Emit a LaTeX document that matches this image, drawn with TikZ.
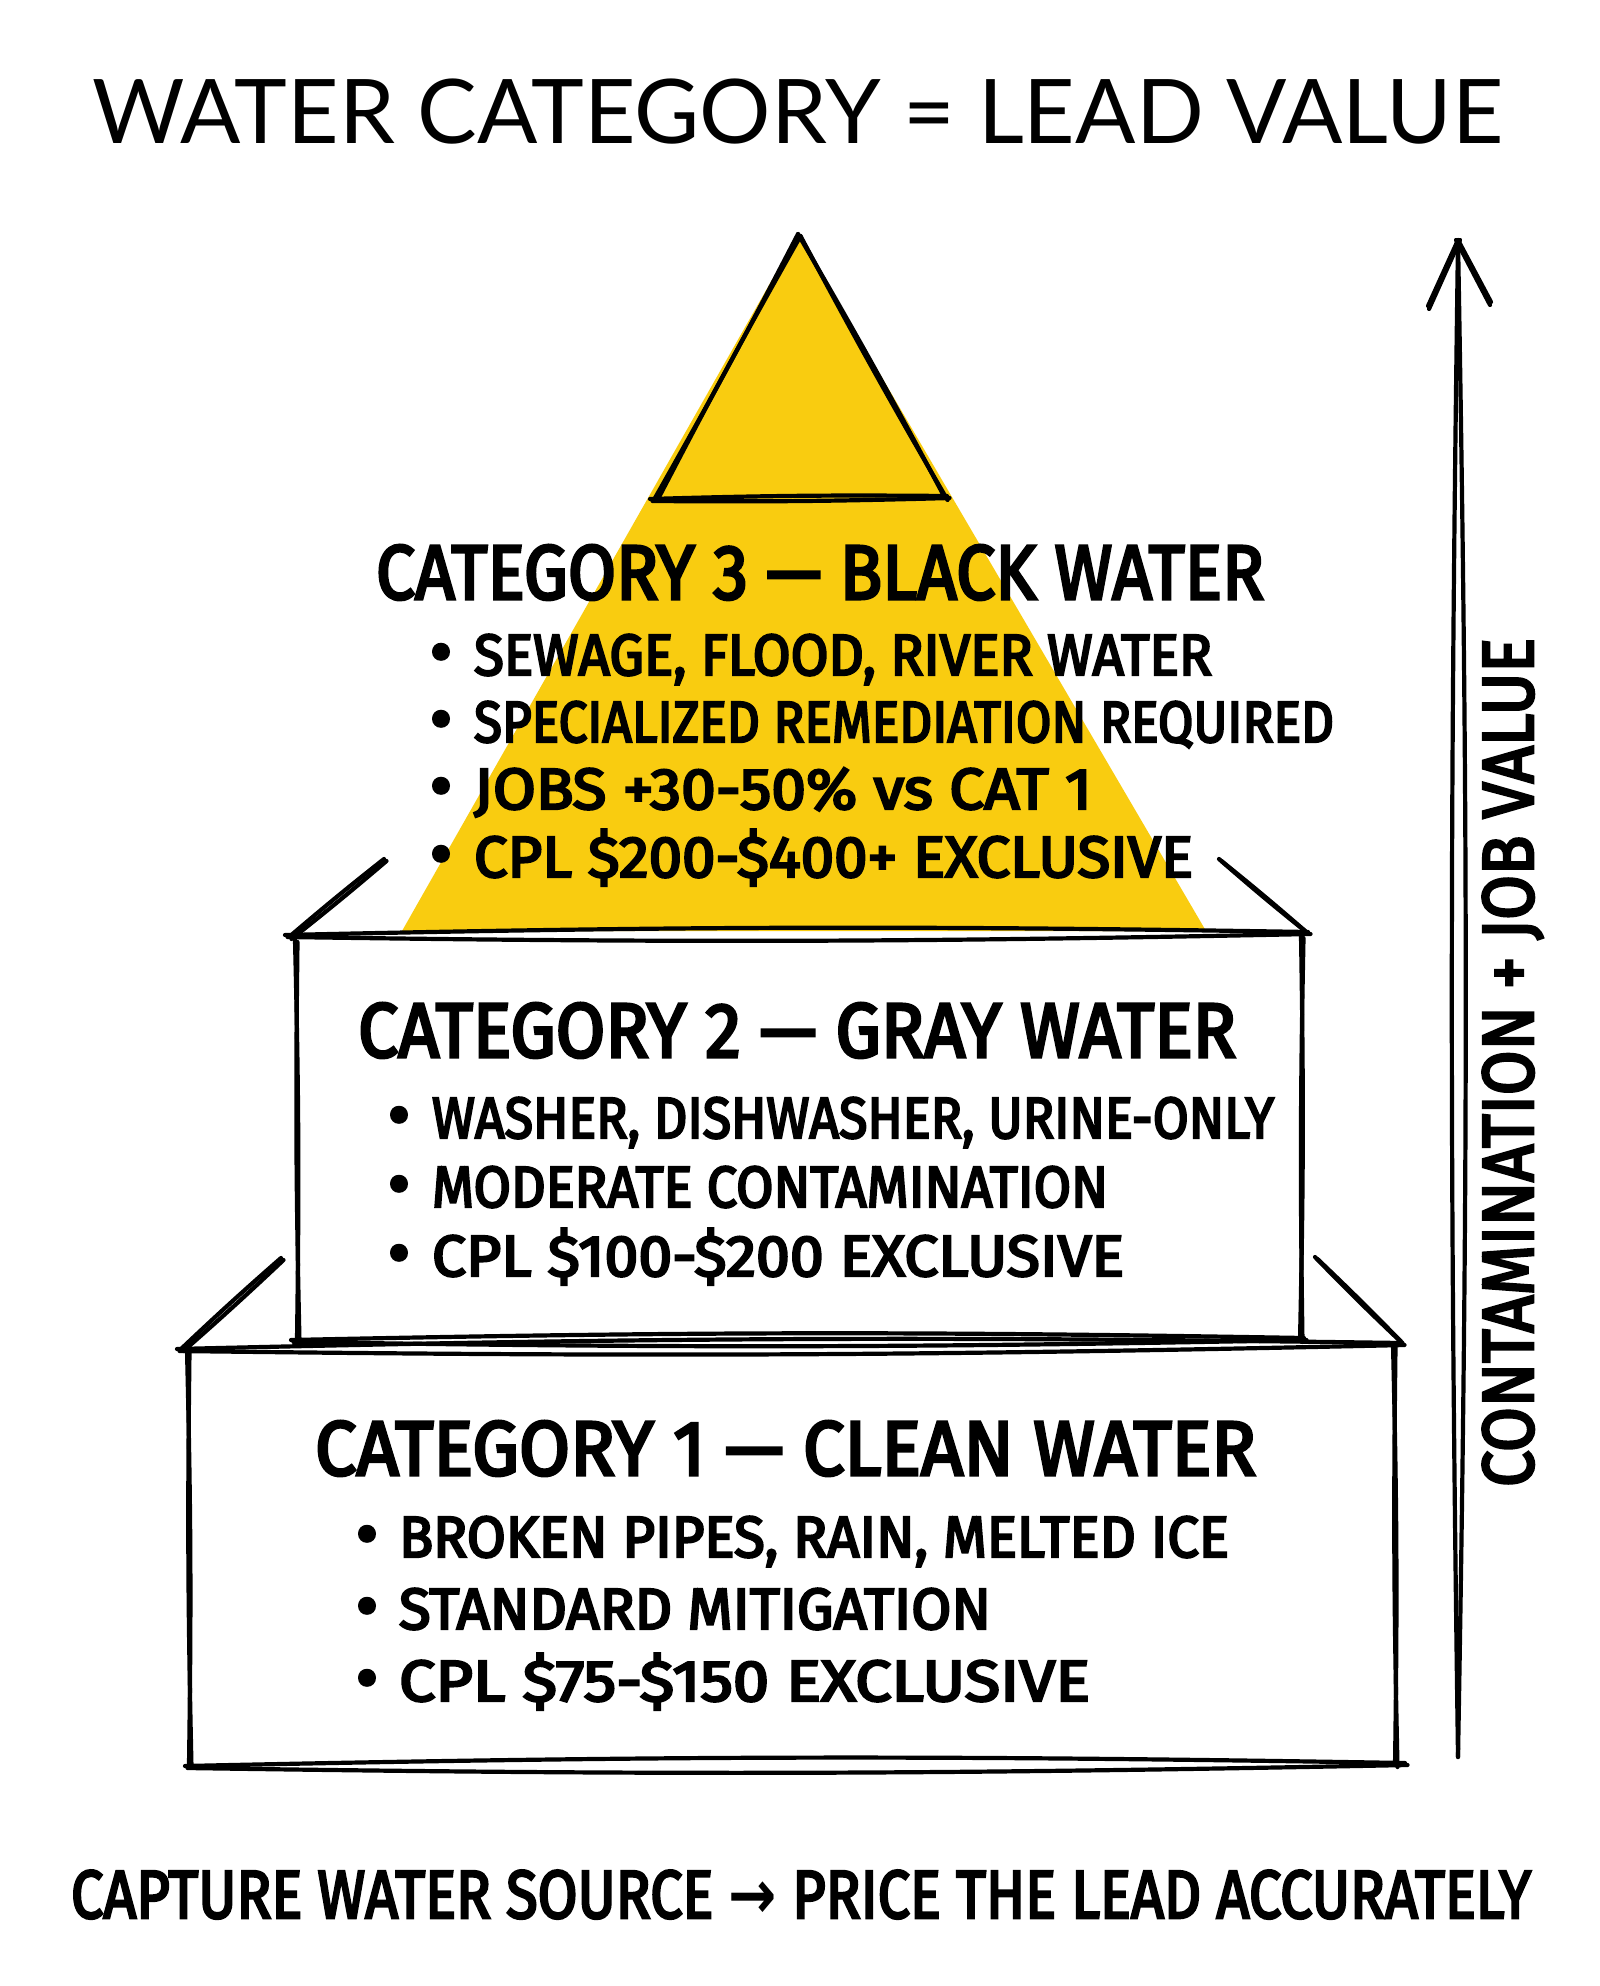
\documentclass[tikz,border=0pt]{standalone}
\usepackage{fontspec}
\usepackage{graphicx}
\usetikzlibrary{calc}
\newfontfamily\hand{Fira Sans}[FakeBold=4]
\newfontfamily\titlefont{Lato}
\newfontfamily\dejavu{DejaVu Sans}
\definecolor{catyellow}{HTML}{F9CC10}
\newcommand\fitw[2]{\resizebox{\dimexpr #1pt/2\relax}{\height}{#2}}
\newcommand\skline[2]{%
  \draw[sk] #1 to[bend left=1.1] #2;
  \draw[sk,shift={(2.5,2)}] #1 to[bend right=1.0] #2;}
\begin{document}
\begin{tikzpicture}[x=0.5pt,y=-0.5pt,
  sk/.style={line width=2.1pt, line cap=round, line join=round, black},
  txt/.style={inner sep=0pt, outer sep=0pt, anchor=base west, text=black},
  head/.style={txt, font=\hand\fontsize{38.5}{44}\selectfont},
  item/.style={txt, font=\hand\fontsize{29}{34}\selectfont},
  bul/.style={inner sep=0pt, outer sep=0pt, anchor=base, font=\hand\fontsize{34}{38}\selectfont}]
\useasboundingbox (0,0) rectangle (1600,1986);
\fill[white] (0,0) rectangle (1600,1986);

% title
\node[txt, font=\titlefont\fontsize{44.6}{50}\selectfont] (title) at (92,143) {\fitw{1411}{WATER CATEGORY = LEAD VALUE}};

% yellow pyramid
\fill[catyellow] (798,234) -- (402,931) -- (1206,931) -- cycle;
\skline{(798,234)}{(655,498)}
\skline{(798,234)}{(945,498)}
\skline{(650,499)}{(947,496)}

% box 2 (gray water)
\skline{(285,935)}{(1308,932)}
\skline{(295,940)}{(297,1340)}
\skline{(1301,936)}{(1300,1340)}
\skline{(291,1340)}{(1304,1338)}
\skline{(289,937)}{(384,859)}
\skline{(1305,931)}{(1219,859)}

% box 1 (clean water)
\skline{(177,1349)}{(1402,1343)}
\skline{(187,1350)}{(189,1765)}
\skline{(1393,1345)}{(1395,1765)}
\skline{(185,1766)}{(1405,1763)}
\skline{(181,1349)}{(281,1258)}
\skline{(1400,1341)}{(1315,1257)}

% category 3
\node[head] (c3h) at (376,599) {\fitw{888}{CATEGORY 3 — BLACK WATER}};
\node[bul] (c3b1) at (441,675) {•};
\node[item] (c3t1) at (474,675) {\fitw{738}{SEWAGE, FLOOD, RIVER WATER}};
\node[bul] (c3b2) at (441,742) {•};
\node[item] (c3t2) at (474,742) {\fitw{860}{SPECIALIZED REMEDIATION REQUIRED}};
\node[bul] (c3b3) at (441,809) {•};
\node[item] (c3t3) at (474,809) {\fitw{618}{JOBS +30-50\% vs CAT 1}};
\node[bul] (c3b4) at (441,877) {•};
\node[item] (c3t4) at (474,877) {\fitw{719}{CPL \$200-\$400+ EXCLUSIVE}};

% category 2
\node[head] (c2h) at (358,1057) {\fitw{878}{CATEGORY 2 — GRAY WATER}};
\node[bul] (c2b1) at (399,1138) {•};
\node[item] (c2t1) at (432,1138) {\fitw{842}{WASHER, DISHWASHER, URINE-ONLY}};
\node[bul] (c2b2) at (399,1207) {•};
\node[item] (c2t2) at (432,1207) {\fitw{676}{MODERATE CONTAMINATION}};
\node[bul] (c2b3) at (399,1276) {•};
\node[item] (c2t3) at (432,1276) {\fitw{692}{CPL \$100-\$200 EXCLUSIVE}};

% category 1
\node[head] (c1h) at (315,1475) {\fitw{941}{CATEGORY 1 — CLEAN WATER}};
\node[bul] (c1b1) at (367,1557) {•};
\node[item] (c1t1) at (399,1557) {\fitw{830}{BROKEN PIPES, RAIN, MELTED ICE}};
\node[bul] (c1b2) at (367,1629) {•};
\node[item] (c1t2) at (399,1629) {\fitw{592}{STANDARD MITIGATION}};
\node[bul] (c1b3) at (367,1701) {•};
\node[item] (c1t3) at (399,1701) {\fitw{691}{CPL \$75-\$150 EXCLUSIVE}};

% vertical arrow
\coordinate (abot) at (1458,1757);
\coordinate (atop) at (1458,240);
\coordinate (hl) at (1428,306);
\coordinate (hr) at (1491,302);
\draw[sk] (abot) to[bend left=0.8] (atop);
\draw[sk] (abot) to[bend right=1.0] (atop);
\draw[sk] (atop) -- (hl);
\draw[sk] ([shift={(2,0)}]atop) -- ([shift={(1,3)}]hl);
\draw[sk] (atop) -- (hr);
\draw[sk] ([shift={(-2,0)}]atop) -- ([shift={(-1,3)}]hr);
\node[txt, rotate=90, font=\hand\fontsize{36}{40}\selectfont] (side) at (1533,1487) {\fitw{849}{CONTAMINATION + JOB VALUE}};

% footer
\node[txt, font=\hand\fontsize{34}{40}\selectfont] (foot) at (71,1918) {\fitw{1460}{CAPTURE WATER SOURCE {\dejavu\bfseries →} PRICE THE LEAD ACCURATELY}};
\end{tikzpicture}
\end{document}
